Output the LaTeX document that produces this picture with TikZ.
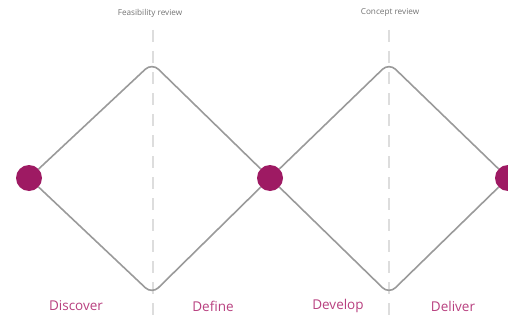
\documentclass[tikz,border=0pt]{standalone}
\usepackage{fontspec}
\setmainfont{Open Sans}
\definecolor{plum}{HTML}{9E1A63}
\definecolor{plumtext}{HTML}{B8407F}
\definecolor{linegray}{HTML}{9A9A9A}
\definecolor{dashgray}{HTML}{DDDDDD}
\begin{document}
\begin{tikzpicture}[x=1pt,y=-1pt,
  dot/.style={circle,fill=plum,minimum size=26pt,inner sep=0pt},
  phase/.style={text=plumtext,font=\fontsize{13.5}{15}\selectfont},
  review/.style={text=black!55,font=\fontsize{8.2}{9}\selectfont},
  diamond line/.style={draw=linegray,line width=1.6pt,rounded corners=9pt},
  divider/.style={draw=dashgray,line width=1.6pt,dash pattern=on 12pt off 9pt}]
\useasboundingbox (0,0) rectangle (508,321);
\draw[divider] (153,30) -- (153,321);
\draw[divider] (389,30) -- (389,321);
\node[dot] (d1) at (29,178) {};
\node[dot] (d2) at (270,178) {};
\node[dot] (d3) at (508,178) {};
\coordinate (t1) at (152,63);
\coordinate (b1) at (152,294);
\coordinate (t2) at (389,63);
\coordinate (b2) at (389,294);
\draw[diamond line] (d1) -- (t1) -- (d2);
\draw[diamond line] (d1) -- (b1) -- (d2);
\draw[diamond line] (d2) -- (t2) -- (d3);
\draw[diamond line] (d2) -- (b2) -- (d3);
\node[review] (r1) at (150,13) {Feasibility review};
\node[review] (r2) at (390,12) {Concept review};
\node[phase] (p1) at (76,306) {Discover};
\node[phase] (p2) at (213,306) {Define};
\node[phase] (p3) at (338,306) {Develop};
\node[phase] (p4) at (453,306) {Deliver};
\end{tikzpicture}
\end{document}
